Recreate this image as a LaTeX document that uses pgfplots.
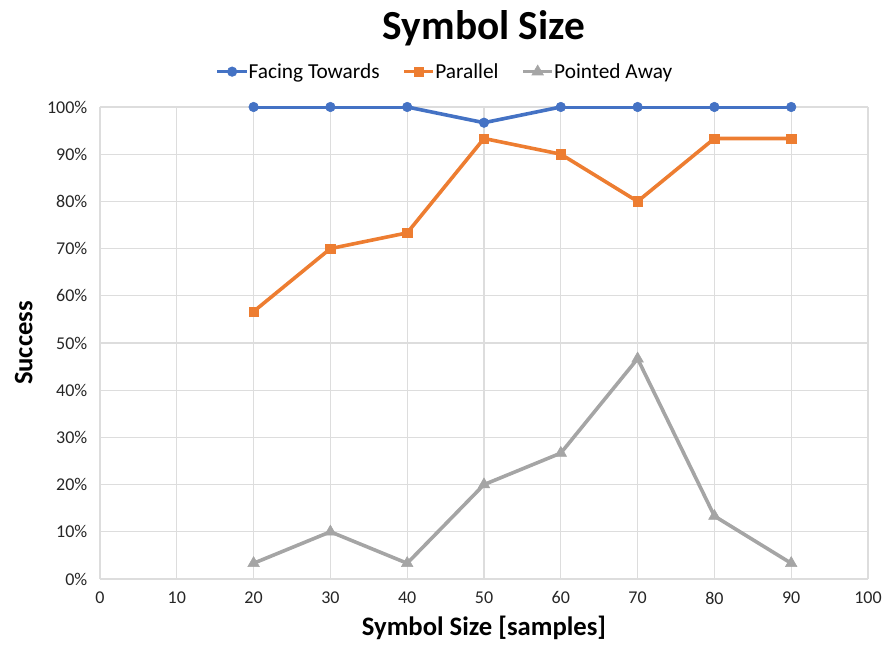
\documentclass[border=0pt]{standalone}
\usepackage{fontspec}
\setmainfont{Carlito}
\usepackage{pgfplots}
\pgfplotsset{compat=1.18}
\definecolor{cblue}{HTML}{4472C4}
\definecolor{corange}{HTML}{ED7D31}
\definecolor{cgray}{HTML}{A5A5A5}
\definecolor{cgrid}{HTML}{DDDDDD}
\begin{document}
\begin{tikzpicture}[x=1pt,y=1pt]
\begin{axis}[
  at={(0,0)}, anchor=south west,
  scale only axis, width=576pt, height=354pt,
  xmin=0, xmax=100, ymin=0, ymax=1,
  xtick={0,10,...,100},
  ytick={0,0.1,...,1.0},
  yticklabel={\pgfmathparse{round(\tick*100)}\pgfmathprintnumber[fixed,precision=0]{\pgfmathresult}\%},
  /pgf/number format/assume math mode=true,
  tick label style={font=\fontsize{13.5}{16}\selectfont, text=black!85},
  xticklabel style={yshift=-6pt},
  yticklabel style={xshift=-6pt},
  grid=major,
  major grid style={cgrid, line width=0.9pt},
  axis line style={cgrid, line width=1pt},
  axis x line*=bottom, axis y line*=left,
  x axis line style={-},
  y axis line style={-},
  major tick length=0pt,
  xlabel={\bfseries Symbol Size [samples]},
  ylabel={\bfseries Success},
  label style={font=\fontsize{20}{24}\selectfont},
  xlabel style={yshift=-2pt},
  ylabel style={yshift=4pt},
  title={\bfseries Symbol Size},
  title style={font=\fontsize{31}{36}\selectfont, yshift=36pt},
  legend columns=3,
  legend style={draw=none, fill=none, at={(0.5,1)}, anchor=south, yshift=16pt, xshift=-29pt,
    font=\fontsize{16}{19}\selectfont, /tikz/every even column/.append style={column sep=15pt},
    /tikz/every odd column/.append style={column sep=-2pt}},
  legend image code/.code={
    \draw[#1, mark repeat=2, mark phase=2] plot coordinates {(0pt,0pt) (11pt,0pt) (22pt,0pt)};},
  every axis plot/.append style={line width=2.7pt, mark options={line width=0.4pt, solid}},
]
\addplot[cblue, mark=*, mark size=3.6pt] coordinates {
  (20,1.0) (30,1.0) (40,1.0) (50,0.9667) (60,1.0) (70,1.0) (80,1.0) (90,1.0)};
\addlegendentry{Facing Towards}
\addplot[corange, mark=square*, mark size=3.5pt] coordinates {
  (20,0.5667) (30,0.70) (40,0.7333) (50,0.9333) (60,0.90) (70,0.80) (80,0.9333) (90,0.9333)};
\addlegendentry{Parallel}
\addplot[cgray, mark=triangle*, mark size=5pt] coordinates {
  (20,0.0333) (30,0.10) (40,0.0333) (50,0.20) (60,0.2667) (70,0.4667) (80,0.1333) (90,0.0333)};
\addlegendentry{Pointed Away}
\end{axis}
\pgfresetboundingbox
\path (-75pt,-51.75pt) rectangle (588.75pt,434.25pt);
\end{tikzpicture}
\end{document}
